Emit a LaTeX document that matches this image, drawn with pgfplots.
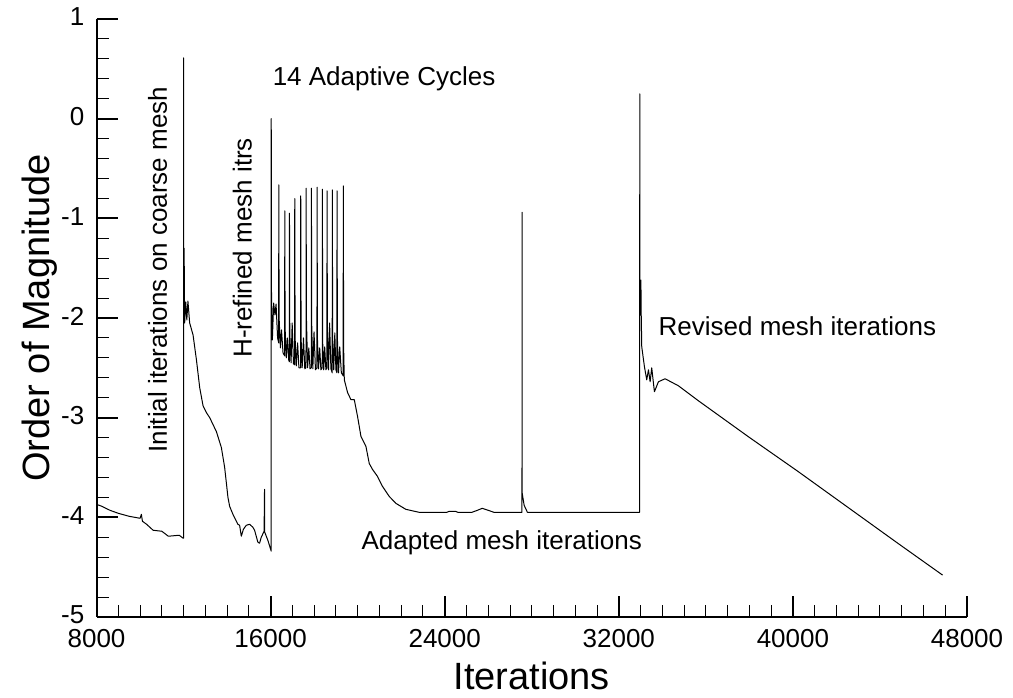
\documentclass[border=0pt]{standalone}
\usepackage{fontspec}
\setmainfont{Liberation Sans}
\usepackage{pgfplots}
\pgfplotsset{compat=1.18}
\begin{document}
\begin{tikzpicture}
\useasboundingbox (-72.4pt,-60.75pt) rectangle (687.4pt,462.75pt);
\begin{axis}[
 at={(0,0)}, anchor=south west, scale only axis,
 width=652.9pt, height=448.5pt,
 xmin=8000, xmax=48000, ymin=-5, ymax=1,
 axis lines*=left,
 axis line style={line width=1.5pt, black},
 xtick={8000,16000,...,48000}, ytick={-5,-4,...,1},
 minor x tick num=7, minor y tick num=4,
 tick align=inside,
 xtick pos=left, ytick pos=left,
 major tick length=15.75pt, minor tick length=9pt,
 major tick style={line width=1.5pt, black},
 minor tick style={line width=0.75pt, black},
 scaled x ticks=false,
 /pgf/number format/assume math mode=true,
 /pgf/number format/1000 sep={},
 tick label style={font=\fontsize{19.5}{22}\selectfont},
 xticklabel style={inner sep=0pt, anchor=north, yshift=-9pt},
 yticklabel style={inner sep=0pt, anchor=east, xshift=-9pt, yshift=1.5pt},
 xlabel={Iterations}, ylabel={Order of Magnitude},
 every axis x label/.style={at={(axis description cs:0.5,-0.122)}, anchor=base, font=\fontsize{28.5}{30}\selectfont},
 every axis y label/.style={at={(axis description cs:-0.054,0.5)}, rotate=90, anchor=base, font=\fontsize{28.5}{30}\selectfont},
]
\addplot[black, line width=0.75pt, line join=round, mark=none] table {
8000 -3.87
8250 -3.89
8620 -3.93
9000 -3.96
9500 -3.99
10000 -4.01
10060 -3.97
10110 -4.04
10300 -4.07
10600 -4.13
11000 -4.14
11300 -4.19
11800 -4.18
11980 -4.21
12000 -4.21
12000 0.61
12010 -1.90
12025 -1.30
12050 -2.05
12100 -1.84
12150 -2.02
12200 -1.83
12280 -2.05
12435 -2.17
12591 -2.42
12742 -2.70
12894 -2.88
13050 -2.95
13200 -3.00
13508 -3.14
13737 -3.30
13888 -3.50
14039 -3.80
14117 -3.89
14268 -3.97
14497 -4.07
14575 -4.08
14653 -4.19
14750 -4.12
14882 -4.08
15034 -4.07
15185 -4.10
15263 -4.13
15414 -4.25
15492 -4.26
15570 -4.20
15700 -4.14
15720 -3.72
15730 -4.15
15872 -4.23
16028 -4.34
16028 0.0
16040 -1.74
16080 -2.22
16140 -1.85
16200 -1.97
16250 -1.86
16320 -2.20
16370 -2.25
16376 -0.665
16390 -2.00
16450 -2.30
16500 -2.12
16570 -2.35
16645 -2.38
16651 -0.926
16665 -2.10
16720 -2.40
16770 -2.20
16830 -2.42
16860 -2.44
16866 -0.949
16880 -2.15
16940 -2.45
16990 -2.05
17050 -2.46
17103 -2.47
17109 -0.802
17125 -2.20
17180 -2.48
17240 -2.25
17300 -2.50
17378 -2.50
17384 -0.775
17400 -2.20
17450 -2.50
17510 -2.20
17570 -2.51
17625 -2.50
17631 -0.698
17645 -2.00
17700 -2.50
17755 -2.30
17810 -2.51
17868 -2.50
17874 -0.698
17890 -2.10
17940 -2.51
17995 -2.14
18060 -2.52
18129 -2.50
18135 -0.688
18150 -2.20
18200 -2.51
18255 -2.30
18310 -2.52
18372 -2.50
18378 -0.708
18393 -2.25
18440 -2.52
18485 -2.29
18540 -2.52
18587 -2.50
18593 -0.725
18608 -2.10
18660 -2.52
18710 -2.05
18770 -2.51
18830 -2.55
18836 -0.715
18850 -2.20
18900 -2.52
18950 -2.15
19000 -2.52
19046 -2.55
19052 -0.725
19068 -2.20
19120 -2.55
19175 -2.29
19250 -2.55
19334 -2.58
19340 -0.675
19355 -2.30
19386 -2.62
19538 -2.75
19693 -2.82
19845 -2.82
19996 -2.99
20152 -3.19
20381 -3.29
20532 -3.46
20683 -3.52
20912 -3.59
21141 -3.69
21448 -3.79
21755 -3.86
22213 -3.92
22823 -3.95
24100 -3.95
24200 -3.94
24500 -3.94
24600 -3.95
25250 -3.95
25500 -3.93
25723 -3.91
26000 -3.93
26260 -3.95
27550 -3.95
27557 -0.94
27562 -3.76
27650 -3.88
27800 -3.95
32958 -3.95
32963 0.248
32968 -1.60
33000 -1.97
33015 -1.62
33030 -1.97
33054 -2.29
33178 -2.49
33283 -2.62
33361 -2.52
33439 -2.64
33512 -2.50
33636 -2.74
33820 -2.64
34127 -2.61
34736 -2.68
35652 -2.83
36798 -3.01
37944 -3.19
40235 -3.54
42526 -3.90
44817 -4.26
46878 -4.58
};
\node[rotate=90, anchor=base west, inner sep=0pt, font=\fontsize{19.5}{22}\selectfont] at (axis cs:11230,-3.353) {Initial iterations on coarse mesh};
\node[rotate=90, anchor=base west, inner sep=0pt, font=\fontsize{19.5}{22}\selectfont] at (axis cs:15125,-2.40) {H-refined mesh itrs};
\node[anchor=base west, inner sep=0pt, font=\fontsize{19.5}{22}\selectfont] at (axis cs:16087,0.328) {14 Adaptive Cycles};
\node[anchor=base west, inner sep=0pt, font=\fontsize{19.5}{22}\selectfont] at (axis cs:33820,-2.18) {Revised mesh iterations};
\node[anchor=base west, inner sep=0pt, font=\fontsize{19.5}{22}\selectfont] at (axis cs:20165,-4.326) {Adapted mesh iterations};
\end{axis}
\end{tikzpicture}
\end{document}
